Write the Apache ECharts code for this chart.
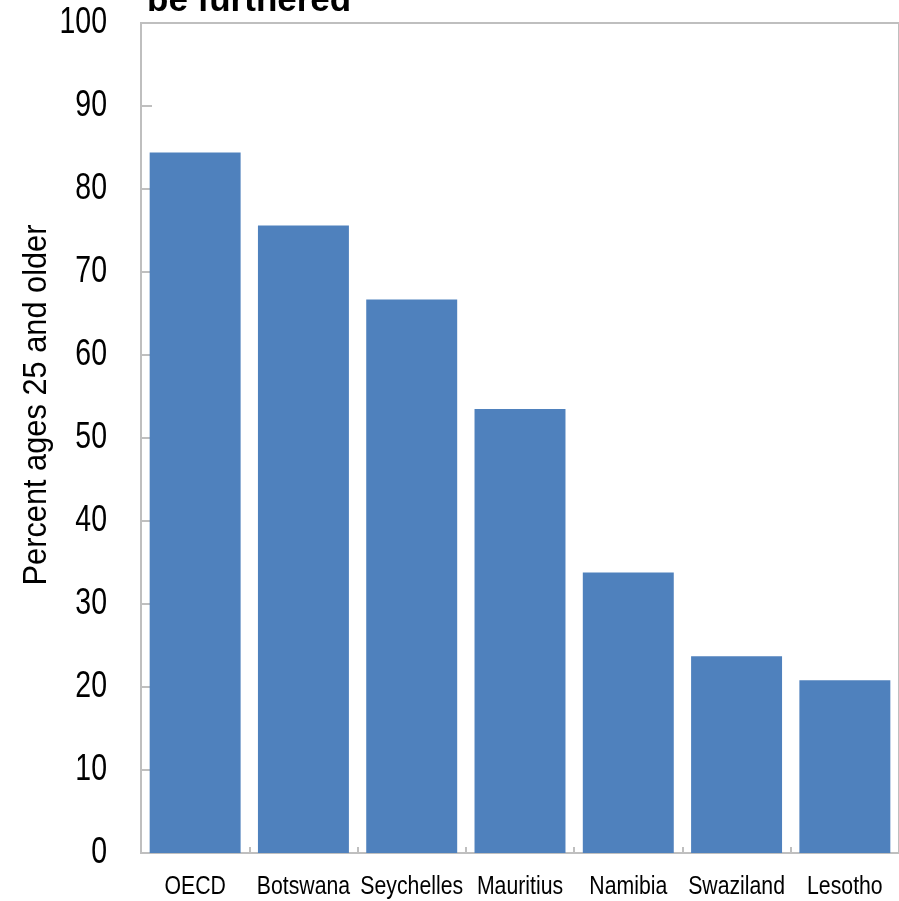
<!DOCTYPE html>
<html>
<head>
<meta charset="utf-8">
<script src="https://cdn.jsdelivr.net/npm/echarts@6/dist/echarts.min.js"></script>
<style>
  html, body { margin: 0; padding: 0; background: #ffffff; }
  #chart { width: 899px; height: 901px; }
</style>
</head>
<body>
<div id="chart"></div>
<script>
// Share of adults (25+) with at least some secondary education
const categories = ['OECD', 'Botswana', 'Seychelles', 'Mauritius', 'Namibia', 'Swaziland', 'Lesotho'];
const values = [84.4, 75.6, 66.7, 53.5, 33.8, 23.7, 20.8];
const yTickValues = [0, 10, 20, 30, 40, 50, 60, 70, 80, 90, 100];
const titleText = 'be furthered';
const yAxisTitle = 'Percent ages 25 and older';

const sans = '"Liberation Sans", Arial, sans-serif';
const axisGray = '#bfbfbf';

const chart = echarts.init(document.getElementById('chart'), null, { renderer: 'canvas' });

chart.setOption({
  animation: false,
  backgroundColor: '#ffffff',
  title: {
    text: titleText,
    left: 147,
    top: -16,
    padding: 0,
    textStyle: {
      fontFamily: sans,
      fontWeight: 'bold',
      fontSize: 35,
      color: '#000000'
    }
  },
  grid: {
    left: 141,
    right: -1,
    top: 23,
    bottom: 48,
    show: true,
    borderColor: axisGray,
    borderWidth: 2,
    backgroundColor: 'transparent'
  },
  xAxis: {
    type: 'category',
    data: categories,
    boundaryGap: true,
    axisLine: { show: true, lineStyle: { color: axisGray, width: 2 } },
    axisTick: { show: true, inside: true, length: 6, lineStyle: { color: axisGray, width: 2 } },
    // labels are drawn below in a condensed style
    axisLabel: { show: false },
    splitLine: { show: false }
  },
  yAxis: {
    type: 'value',
    min: yTickValues[0],
    max: yTickValues[yTickValues.length - 1],
    interval: yTickValues[1] - yTickValues[0],
    axisLine: { show: true, lineStyle: { color: axisGray, width: 2 } },
    axisTick: { show: true, inside: true, length: 11, lineStyle: { color: axisGray, width: 2 } },
    axisLabel: { show: false },
    splitLine: { show: false }
  },
  series: [{
    type: 'bar',
    data: values,
    barCategoryGap: '16%',
    itemStyle: { color: '#4f81bd' },
    label: { show: false }
  }]
});

// Condensed axis text: positions come from the axes' own scales
const labelGraphics = [];
yTickValues.forEach(function (v) {
  const py = chart.convertToPixel({ yAxisIndex: 0 }, v);
  labelGraphics.push({
    type: 'text',
    x: 107,
    y: py,
    scaleX: 0.79,
    style: {
      text: String(v),
      fontFamily: sans,
      fontSize: 36,
      fill: '#000000',
      align: 'right',
      verticalAlign: 'middle'
    }
  });
});
categories.forEach(function (c) {
  const px = chart.convertToPixel({ xAxisIndex: 0 }, c);
  labelGraphics.push({
    type: 'text',
    x: px,
    y: 875,
    scaleX: 0.85,
    style: {
      text: c,
      fontFamily: sans,
      fontSize: 25,
      fill: '#000000',
      align: 'center',
      verticalAlign: 'top'
    }
  });
});
labelGraphics.push({
  type: 'text',
  x: 37,
  y: 405,
  rotation: Math.PI / 2,
  scaleX: 0.905,
  style: {
    text: yAxisTitle,
    fontFamily: sans,
    fontSize: 34,
    fill: '#000000',
    align: 'center',
    verticalAlign: 'middle'
  }
});
chart.setOption({ graphic: labelGraphics });
</script>
</body>
</html>
